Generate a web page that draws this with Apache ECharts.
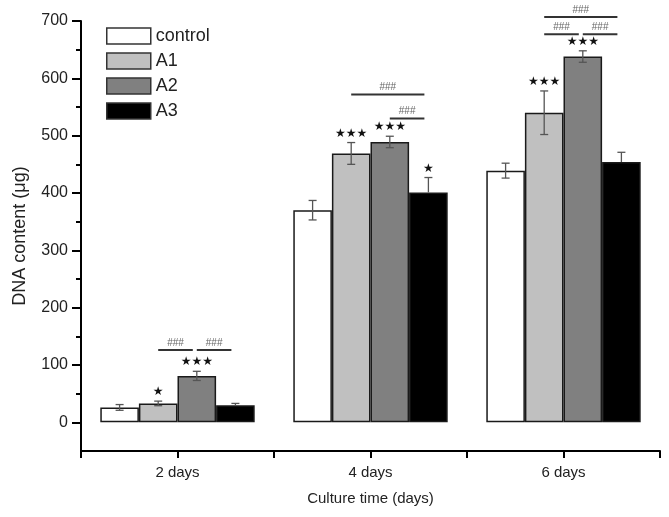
<!DOCTYPE html>
<html><head><meta charset="utf-8">
<script src="https://cdn.jsdelivr.net/npm/echarts@6/dist/echarts.min.js"></script>
<style>html,body{margin:0;padding:0;background:#fff}#c{width:669px;height:517px}</style>
</head><body><div id="c"></div>
<script>
const categories = ['2 days', '4 days', '6 days'];
const seriesNames = ['control', 'A1', 'A2', 'A3'];
const controlVals = [26, 370, 439];
const a1Vals = [33, 469, 540];
const a2Vals = [81, 489, 638];
const a3Vals = [30, 401, 454];
const controlErr = [5, 17, 13];
const a1Err = [4, 19, 38];
const a2Err = [8, 10, 10];
const a3Err = [3, 26, 17];
const controlStars = ['', '', ''];
const a1Stars = ['*', '***', '***'];
const a2Stars = ['***', '***', '***'];
const a3Stars = ['', '*', ''];
// [category, fromSeries, toSeries, y value]
const brackets = [[0, 1, 2, 126], [0, 2, 3, 126], [1, 1, 3, 572], [1, 2, 3, 530], [2, 1, 3, 707], [2, 1, 2, 677], [2, 2, 3, 677]];
const yLabelTicks = [0, 100, 200, 300, 400, 500, 600, 700];
const yMinorTicks = [50, 150, 250, 350, 450, 550, 650];

const vals = [controlVals, a1Vals, a2Vals, a3Vals];
const errs = [controlErr, a1Err, a2Err, a3Err];
const stars = [controlStars, a1Stars, a2Stars, a3Stars];
const colors = ['#ffffff', '#c0c0c0', '#808080', '#000000'];
const GAP = 0.2;

function barCenter(api, cat, s) {
  const band = api.size([1, 0])[0];
  const c = api.coord([cat, 0])[0];
  const bw = band * (1 - GAP) / 4;
  return { x: c - band * (1 - GAP) / 2 + bw * (s + 0.5), bw: bw };
}

const errData = [];
for (let s = 0; s < 4; s++) for (let i = 0; i < categories.length; i++) errData.push([i, s, vals[s][i], errs[s][i], stars[s][i]]);

const barSeries = seriesNames.map((n, s) => ({
  name: n, type: 'bar', data: vals[s], barGap: '0%', barCategoryGap: '20%',
  itemStyle: { color: colors[s], borderColor: '#1a1a1a', borderWidth: 1.5 },
  emphasis: { disabled: true }
}));

const chart = echarts.init(document.getElementById('c'));
chart.setOption({
  animation: false,
  grid: { left: 81, right: 9, top: 21, bottom: 66, containLabel: false },
  legend: {
    orient: 'vertical', left: 106, top: 27, padding: 0, itemWidth: 44, itemHeight: 16, itemGap: 7,
    icon: 'rect',
    data: seriesNames,
    textStyle: { fontFamily: 'Liberation Sans, Arial', fontSize: 18, color: '#222' },
    itemStyle: { borderColor: '#333', borderWidth: 1.5 }
  },
  xAxis: [{
    type: 'category', data: categories,
    axisLine: { onZero: false, lineStyle: { color: '#000', width: 2 } },
    axisTick: { show: true, length: 7, lineStyle: { color: '#000', width: 2 } },
    axisLabel: { fontFamily: 'Liberation Sans, Arial', fontSize: 15, color: '#222', margin: 14 },
    name: 'Culture time (days)', nameLocation: 'middle', nameGap: 40,
    nameTextStyle: { fontFamily: 'Liberation Sans, Arial', fontSize: 15, color: '#222' }
  }, {
    type: 'value', min: 0, max: 6, interval: 1, position: 'bottom',
    axisLine: { show: false, onZero: false }, axisLabel: { show: false }, splitLine: { show: false },
    axisTick: { show: true, length: 7, lineStyle: { color: '#000', width: 2 } }
  }],
  yAxis: [{
    type: 'value', min: -50, max: 700,
    axisLine: { show: true, onZero: false, lineStyle: { color: '#000', width: 2 } },
    axisTick: { show: true, length: 9, customValues: yLabelTicks, lineStyle: { color: '#000', width: 2 } },
    axisLabel: { customValues: yLabelTicks, fontFamily: 'Liberation Sans, Arial', fontSize: 16, color: '#222', margin: 13 },
    splitLine: { show: false },
    name: 'DNA content (\u03bcg)', nameLocation: 'middle', nameGap: 52, nameRotate: 90,
    nameTextStyle: { fontFamily: 'Liberation Sans, Arial', fontSize: 18, color: '#222' }
  }, {
    type: 'value', min: -50, max: 700, position: 'left',
    axisLine: { show: false, onZero: false }, axisLabel: { show: false }, splitLine: { show: false },
    axisTick: { show: true, length: 5, customValues: yMinorTicks, lineStyle: { color: '#000', width: 2 } }
  }],
  series: barSeries.concat([{
    type: 'custom', name: 'err', data: errData, z: 5, silent: true,
    renderItem: function (params, api) {
      const cat = api.value(0), s = api.value(1), m = api.value(2), e = api.value(3);
      const st = errData[params.dataIndex][4];
      const b = barCenter(api, cat, s);
      const yT = api.coord([cat, m + e])[1], yB = api.coord([cat, m - e])[1], yM = api.coord([cat, m])[1];
      const cap = 4;
      const col = '#555';
      const ch = [
        { type: 'line', shape: { x1: b.x, y1: yT, x2: b.x, y2: s === 3 ? yM : yB }, style: { stroke: col, lineWidth: 1.3 } },
        { type: 'line', shape: { x1: b.x - cap, y1: yT, x2: b.x + cap, y2: yT }, style: { stroke: col, lineWidth: 1.3 } }
      ];
      if (s !== 3) ch.push({ type: 'line', shape: { x1: b.x - cap, y1: yB, x2: b.x + cap, y2: yB }, style: { stroke: col, lineWidth: 1.3 } });
      if (st) {
        ch.push({ type: 'text', x: b.x, y: yT - 3, style: { text: st.replace(/\*/g, '\u2605'), fontSize: 12, fill: '#111', align: 'center', verticalAlign: 'bottom', fontFamily: 'DejaVu Sans' } });
      }
      return { type: 'group', children: ch };
    }
  }, {
    type: 'custom', name: 'brackets', data: brackets, z: 5, silent: true, clip: false,
    renderItem: function (params, api) {
      const cat = api.value(0), f = api.value(1), t = api.value(2), y = api.coord([cat, api.value(3)])[1];
      const a = barCenter(api, cat, f), b = barCenter(api, cat, t);
      const x1 = a.x, x2 = b.x - 4;
      return { type: 'group', children: [
        { type: 'line', shape: { x1: x1, y1: y, x2: x2, y2: y }, style: { stroke: '#333', lineWidth: 2 } },
        { type: 'text', x: (x1 + x2) / 2, y: y - 2, style: { text: '###', fontSize: 10, fill: '#666', align: 'center', verticalAlign: 'bottom', fontFamily: 'Liberation Sans, Arial' } }
      ] };
    }
  }])
});
</script></body></html>
